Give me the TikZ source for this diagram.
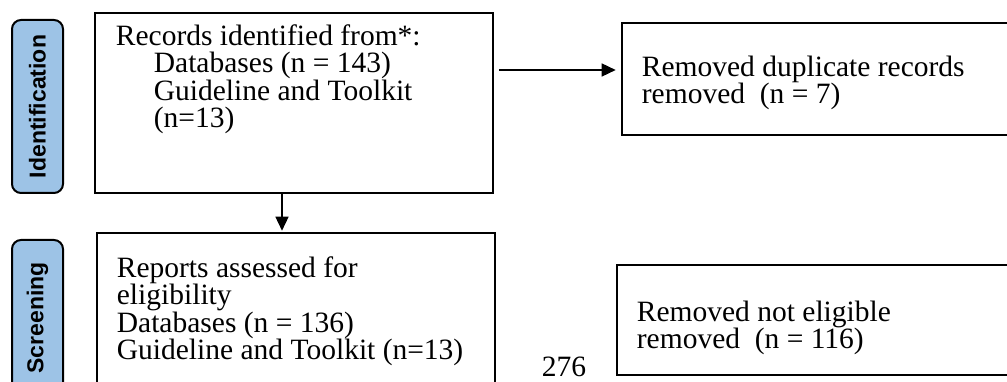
\documentclass[tikz,border=0pt]{standalone}
\usepackage{fontspec}
\setmainfont{Liberation Serif}
\newfontfamily\stagefont{Liberation Sans}
\usetikzlibrary{arrows.meta}
\definecolor{stageblue}{RGB}{157,195,230}

\begin{document}
\begin{tikzpicture}[x=1pt,y=-1pt]
    \tikzstyle{box}=[draw=black,line width=2.6pt,inner sep=0pt]
    \tikzstyle{stage}=[draw=black,line width=2pt,fill=stageblue,rounded corners=9pt,inner sep=0pt,rotate=90,minimum height=51pt,font=\stagefont\bfseries\fontsize{23}{27}\selectfont]
    \tikzstyle{txt}=[anchor=north west,align=left,inner sep=0pt,font=\fontsize{29.5}{27.2}\selectfont]
    \tikzstyle{flow}=[line width=1.5pt,-{Triangle[length=14pt,width=13pt]}]
    \def\subsep{38pt}

    \useasboundingbox (0,0) rectangle (1007,382);

    % Draw the stage labels on the left
    \node[stage,minimum width=173pt] (ident) at (37.5,106.5) {Identification};
    \node[stage,minimum width=156pt] (screen) at (37.5,318) {Screening};

    % Draw the boxes of the main column
    \node[box,minimum width=398pt,minimum height=180pt] (rec) at (294,103) {};
    \node[txt] (rec-t) at ([shift={(22,13)}]rec.north west)
        {Records identified from*:\\
         \hspace*{\subsep}Databases (n = 143)\\
         \hspace*{\subsep}Guideline and Toolkit\\
         \hspace*{\subsep}(n=13)};

    \node[box,minimum width=398pt,minimum height=167pt] (rep) at (296,316.5) {};
    \node[txt] (rep-t) at ([shift={(21,25)}]rep.north west)
        {Reports assessed for\\
         eligibility\\
         Databases (n = 136)\\
         Guideline and Toolkit (n=13)};

    % Draw the boxes of the removed records
    \node[box,minimum width=393pt,minimum height=112pt] (dup) at (818.5,79) {};
    \node[txt] (dup-t) at ([shift={(21,34)}]dup.north west)
        {Removed duplicate records\\
         removed~~(n = 7)};

    \node[box,minimum width=398pt,minimum height=110pt] (nel) at (816,320) {};
    \node[txt] (nel-t) at ([shift={(21,37)}]nel.north west)
        {Removed not eligible\\
         removed~~(n = 116)};

    % Page number left over in the figure
    \node[font=\fontsize{29.5}{27.2}\selectfont,inner sep=0pt] (pg) at (564,367) {276};

    % Connect the boxes
    \coordinate (dup-in) at ([yshift=9pt]dup.west);
    \draw[flow,shorten <=5pt,shorten >=5pt] (dup-in -| rec.east) -- (dup-in);
    \coordinate (rec-out) at ([xshift=-12pt]rec.south);
    \draw[flow,shorten >=1pt] (rec-out) -- (rec-out |- rep.north);

\end{tikzpicture}
\end{document}
